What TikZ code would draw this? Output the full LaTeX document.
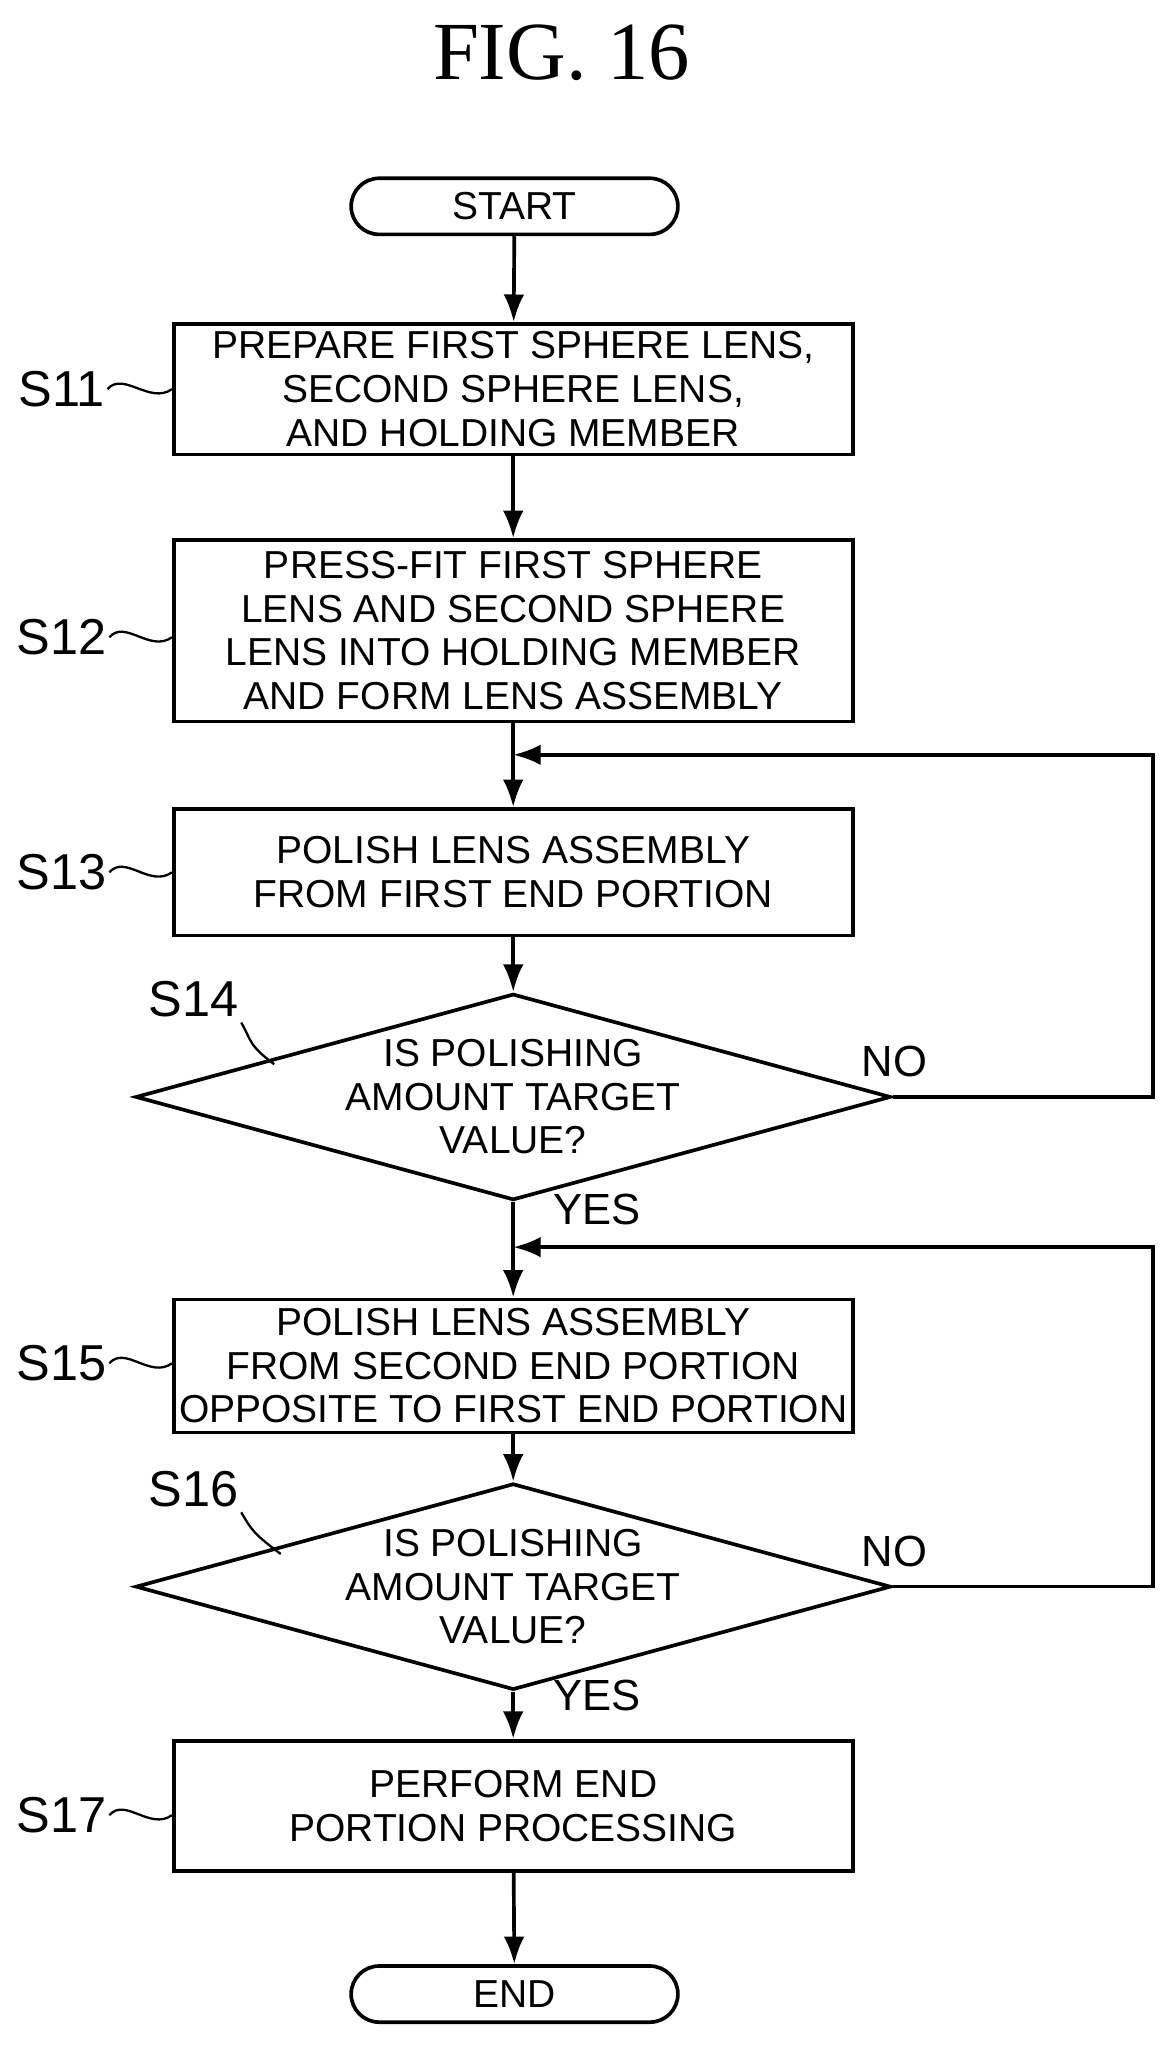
\documentclass[tikz,border=0pt]{standalone}
\usepackage{fontspec}
\setmainfont{Liberation Sans}
\newfontfamily\serifttl{Liberation Serif}
\usetikzlibrary{shapes.geometric,arrows.meta}
\begin{document}
\begin{tikzpicture}[x=0.02cm,y=-0.02cm,
  lw/.style={line width=1.6pt},
  box/.style={draw,lw,rectangle,minimum width=10.4cm,align=center,font=\fontsize{17}{19}\selectfont,inner sep=0pt},
  term/.style={draw,lw,rounded rectangle,minimum width=5.24cm,minimum height=0.86cm,font=\fontsize{17}{19}\selectfont},
  dia/.style={draw,lw,diamond,aspect=3.66,minimum width=10.4cm,minimum height=2.84cm,inner sep=0pt,align=center,font=\fontsize{17}{19}\selectfont},
  lab/.style={font=\fontsize{22}{24}\selectfont,inner sep=0pt},
  arr/.style={lw,-{Latex[length=12pt,width=9pt]}},
  wav/.style={line width=1pt}]
\usetikzlibrary{shapes.misc}
\useasboundingbox (0,0) rectangle (900,1566);
\node[font=\serifttl\fontsize{36}{40}\selectfont] (title) at (430,40) {FIG. 16};
\node[term] (start) at (394,158) {START};
\node[box,minimum height=2.0cm] (s11) at (393,298) {PREPARE FIRST SPHERE LENS,\\SECOND SPHERE LENS,\\AND HOLDING MEMBER};
\node[box,minimum height=2.78cm] (s12) at (393,483) {PRESS-FIT FIRST SPHERE\\LENS AND SECOND SPHERE\\LENS INTO HOLDING MEMBER\\AND FORM LENS ASSEMBLY};
\node[box,minimum height=1.94cm] (s13) at (393,668) {POLISH LENS ASSEMBLY\\FROM FIRST END PORTION};
\node[dia] (s14) at (393,840) {IS POLISHING\\AMOUNT TARGET\\VALUE?};
\node[box,minimum height=2.04cm] (s15) at (393,1046) {POLISH LENS ASSEMBLY\\FROM SECOND END PORTION\\OPPOSITE TO FIRST END PORTION};
\node[dia] (s16) at (393,1215) {IS POLISHING\\AMOUNT TARGET\\VALUE?};
\node[box,minimum height=2.0cm] (s17) at (393,1383) {PERFORM END\\PORTION PROCESSING};
\node[term] (end) at (394,1527) {END};
\coordinate (j1) at (393,578);
\coordinate (j2) at (393,955);
\coordinate (r1) at (883,578);
\coordinate (r2) at (883,955);
\draw[arr] (start) -- (s11);
\draw[arr] (s11) -- (s12);
\draw[arr] (s12) -- (s13);
\draw[arr] (s13) -- (s14);
\draw[arr] (s14) -- (s15);
\draw[arr] (s15) -- (s16);
\draw[arr] (s16) -- (s17);
\draw[arr] (s17) -- (end);
\draw[arr] (s14.east) -| (r1) -- (j1);
\draw[arr] (s16.east) -| (r2) -- (j2);
\node[font=\fontsize{19}{21}\selectfont] (no1) at (685,813) {NO};
\node[font=\fontsize{19}{21}\selectfont] (yes1) at (457,926) {YES};
\node[font=\fontsize{19}{21}\selectfont] (no2) at (685,1188) {NO};
\node[font=\fontsize{19}{21}\selectfont] (yes2) at (457,1298) {YES};
\node[lab] (l11) at (47,298) {S11};
\node[lab] (l12) at (47,488) {S12};
\node[lab] (l13) at (47,668) {S13};
\node[lab] (l14) at (148,765) {S14};
\node[lab] (l15) at (47,1044) {S15};
\node[lab] (l16) at (148,1140) {S16};
\node[lab] (l17) at (47,1390) {S17};
\foreach \l/\b/\y in {l11/s11/298,l12/s12/488,l13/s13/668,l15/s15/1044,l17/s17/1390}{
  \draw[wav] (\l.east) ++(2,0) .. controls ++(12,-14) and (115,\y+12) .. (\b.west |- 0,\y);}
\coordinate (d14) at (210,815);
\coordinate (d16) at (215,1190);
\draw[wav] (l14.south east) ++(2,4) .. controls ++(8,14) and (190,800) .. (d14);
\draw[wav] (l16.south east) ++(2,4) .. controls ++(8,14) and (195,1175) .. (d16);
\end{tikzpicture}
\end{document}
